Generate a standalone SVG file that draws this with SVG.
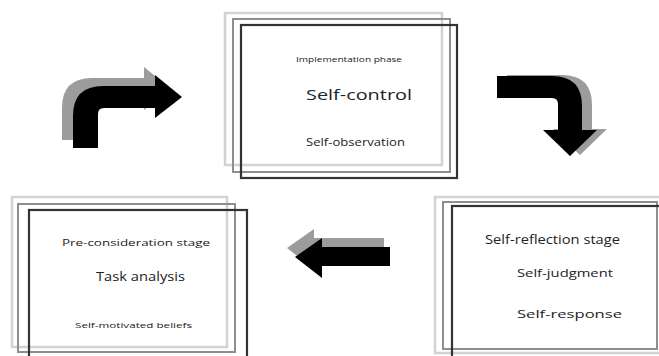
<svg xmlns="http://www.w3.org/2000/svg" width="659" height="356" viewBox="0 0 659 356">
<style>
.l{fill:none;stroke:#d2d2d2;stroke-width:2.5}
.m{fill:none;stroke:#8e8e8e;stroke-width:2}
.d{fill:none;stroke:#333;stroke-width:2.2}
.t{font-family:"Open Sans","Liberation Sans",Arial,sans-serif;fill:#222;text-anchor:start}
.ga{fill:#9c9c9c}
.ba{fill:#000}
</style>
<rect width="659" height="356" fill="#fff"/>
<g id="connectors">
  <path class="ga" transform="translate(-11,-8)" d="M73,148 L73,116 Q73,86 103,86 L155,86 L155,75 L182,97 L155,118 L155,108 L104,108 Q98,108 98,114 L98,148 Z"/>
  <path class="ba" d="M73,148 L73,116 Q73,86 103,86 L155,86 L155,75 L182,97 L155,118 L155,108 L104,108 Q98,108 98,114 L98,148 Z"/>
  <path class="ga" transform="translate(10,-1)" d="M497,76 L552,76 Q582,76 582,106 L582,130 L597,130 L570,156 L543,130 L558,130 L558,104 Q558,98 552,98 L497,98 Z"/>
  <path class="ba" d="M497,76 L552,76 Q582,76 582,106 L582,130 L597,130 L570,156 L543,130 L558,130 L558,104 Q558,98 552,98 L497,98 Z"/>
  <path class="ga" d="M287,248 L314,229 L314,238 L384,238 L384,257 L314,257 L314,269 Z"/>
  <path class="ba" d="M295,257 L322,238 L322,247 L390,247 L390,266 L322,266 L322,278 Z"/>
</g>
<g id="implementation">
  <rect class="l" x="225" y="13" width="217" height="152"/>
  <rect class="m" x="233" y="19" width="217" height="153"/>
  <rect class="d" x="241" y="25" width="216" height="153"/>
  <text class="t" x="296" y="62" font-size="8" textLength="106" lengthAdjust="spacingAndGlyphs">Implementation phase</text>
  <text class="t" x="306" y="100" font-size="15" textLength="106" lengthAdjust="spacingAndGlyphs">Self-control</text>
  <text class="t" x="306" y="146" font-size="10" textLength="99" lengthAdjust="spacingAndGlyphs">Self-observation</text>
</g>
<g id="preconsideration">
  <rect class="l" x="12" y="197" width="215" height="150"/>
  <rect class="m" x="18" y="204" width="217" height="148"/>
  <rect class="d" x="29" y="210" width="218" height="152"/>
  <text class="t" x="62" y="246" font-size="9.5" textLength="148" lengthAdjust="spacingAndGlyphs">Pre-consideration stage</text>
  <text class="t" x="96" y="281" font-size="12" textLength="89" lengthAdjust="spacingAndGlyphs">Task analysis</text>
  <text class="t" x="75" y="328" font-size="8" textLength="117" lengthAdjust="spacingAndGlyphs">Self-motivated beliefs</text>
</g>
<g id="selfreflection">
  <rect class="l" x="435" y="197" width="232" height="156"/>
  <rect class="m" x="443" y="202" width="214" height="147"/>
  <rect class="d" x="452" y="206" width="214" height="160"/>
  <text class="t" x="485" y="244" font-size="12" textLength="135" lengthAdjust="spacingAndGlyphs">Self-reflection stage</text>
  <text class="t" x="517" y="277" font-size="10.5" textLength="96" lengthAdjust="spacingAndGlyphs">Self-judgment</text>
  <text class="t" x="517" y="318" font-size="11.5" textLength="105" lengthAdjust="spacingAndGlyphs">Self-response</text>
</g>
</svg>
